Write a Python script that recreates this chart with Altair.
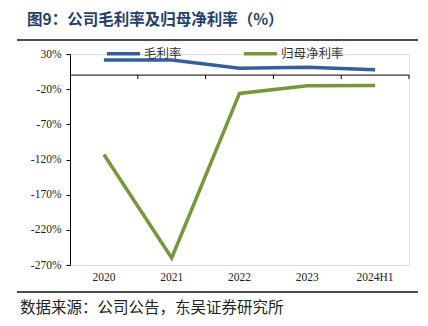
import altair as alt
import pandas as pd

years = ["2020", "2021", "2022", "2023", "2024H1"]
gross_margin = [21.5, 21.5, 9.6, 11.0, 7.6]
net_margin = [-113, -260, -26, -15, -14.7]
series_names = ["毛利率", "归母净利率"]
colors = ["#34609A", "#76983A"]
y_ticks = [30, -20, -70, -120, -170, -220, -270]

title_text = "图9：公司毛利率及归母净利率（%）"
source_text = "数据来源：公司公告，东吴证券研究所"

rows = []
for y, g, n in zip(years, gross_margin, net_margin):
    rows.append({"year": y, "series": series_names[0], "value": g})
    rows.append({"year": y, "series": series_names[1], "value": n})
df = pd.DataFrame(rows)
df_years = pd.DataFrame({"year": years})

serif = "Liberation Serif"
cjk = "Noto Sans CJK SC"

x_scale = alt.Scale(type="band", paddingInner=0, paddingOuter=0, domain=years)
y_scale = alt.Scale(domain=[-270, 30], nice=False, zero=False)

x_axis = alt.Axis(title=None, domain=False, ticks=False, bandPosition=0.5,
                  labelAlign="center", labelPadding=6, labelAngle=0,
                  labelFont=serif, labelFontSize=11.5, labelColor="#222", grid=False)
y_axis = alt.Axis(title=None, values=y_ticks, labelExpr="datum.value + '%'",
                  labelOverlap=False, tickSize=4, labelPadding=5,
                  domainColor="#000", tickColor="#000",
                  labelFont=serif, labelFontSize=11.5, labelColor="#222", grid=False)

lines = alt.Chart(df).mark_line(strokeWidth=3.5).encode(
    x=alt.X("year:N", sort=years, bandPosition=0.5, scale=x_scale, axis=x_axis),
    y=alt.Y("value:Q", scale=y_scale, axis=y_axis),
    color=alt.Color("series:N", sort=series_names,
                    scale=alt.Scale(domain=series_names, range=colors),
                    legend=alt.Legend(title=None, orient="none", direction="horizontal",
                                      legendX=35, legendY=-19, symbolType="stroke",
                                      symbolSize=1100, symbolStrokeWidth=3.5,
                                      labelFont=cjk, labelFontSize=12.5, labelColor="#333",
                                      labelOffset=2, columnPadding=54)),
)

zero_line = alt.Chart(pd.DataFrame({"value": [0]})).mark_rule(color="#000", strokeWidth=1).encode(
    y=alt.Y("value:Q", scale=y_scale, axis=y_axis), x=alt.value(0), x2=alt.value(339))

band_ticks = alt.Chart(df_years).mark_rule(color="#000", strokeWidth=1).encode(
    x=alt.X("year:N", sort=years, bandPosition=1, scale=x_scale, axis=x_axis),
    y=alt.value(21), y2=alt.value(25))

title = alt.Chart(pd.DataFrame({"t": [title_text]})).mark_text(
    align="left", baseline="middle", font=cjk, fontSize=15.5, fontWeight="bold", color="#243F6B"
).encode(x=alt.value(-43), y=alt.value(-34), text="t:N")

source = alt.Chart(pd.DataFrame({"t": [source_text]})).mark_text(
    align="left", baseline="middle", font=cjk, fontSize=15.5, color="#222"
).encode(x=alt.value(-50), y=alt.value(254), text="t:N")

top_rule = alt.Chart(pd.DataFrame({"a": [0]})).mark_rule(color="#111", strokeWidth=1.5).encode(
    x=alt.value(-53), x2=alt.value(348), y=alt.value(-14))
bottom_rule = alt.Chart(pd.DataFrame({"a": [0]})).mark_rule(color="#111", strokeWidth=1.5).encode(
    x=alt.value(-53), x2=alt.value(348), y=alt.value(238))

chart = alt.layer(lines, zero_line, band_ticks, title, source, top_rule, bottom_rule).properties(
    width=339, height=211,
    autosize=alt.AutoSizeParams(type="none"),
    padding={"left": 70, "top": 54, "right": 19, "bottom": 61},
).configure_view(stroke=None).configure(background="white")

chart.save("out.html", embed_options={"renderer": "svg", "actions": False})
